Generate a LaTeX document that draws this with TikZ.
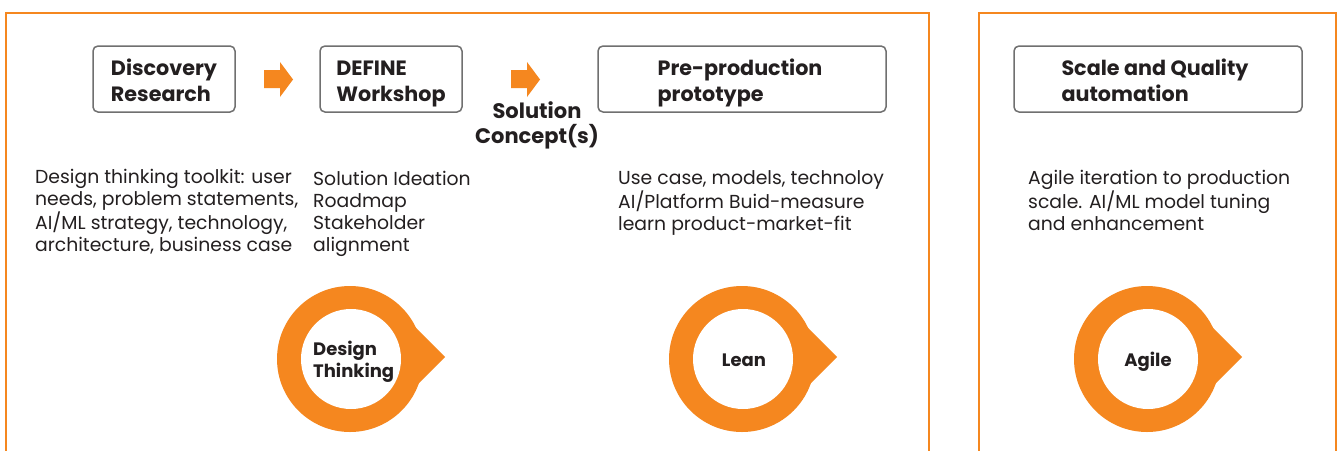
\documentclass[tikz,border=0pt]{standalone}
\usepackage{fontspec}
\setmainfont{Poppins}
\definecolor{org}{HTML}{F5871F}
\definecolor{gry}{HTML}{707070}
\definecolor{ink}{HTML}{231F20}
\begin{document}
\begin{tikzpicture}[x=1pt,y=-1pt,
 frame/.style={draw=org,line width=2pt},
 stagebox/.style={draw=gry,line width=1.5pt,rounded corners=5pt,minimum height=66pt,inner sep=0pt},
 stagetext/.style={anchor=base,inner sep=0pt,font=\bfseries\fontsize{20.7}{26}\selectfont,align=left,text=ink},
 body/.style={anchor=base west,inner sep=0pt,align=left,font=\fontsize{18.8}{22}\selectfont,text=ink},
 ringlabel/.style={inner sep=0pt,font=\bfseries\fontsize{18}{22.5}\selectfont,text=ink},
 blockarrow/.style={fill=org}
]
\clip (0,0) rectangle (1337,450);
\fill[white] (0,0) rectangle (1337,450);
% frames
\draw[frame] (6,470) -- (6,13) -- (929,13) -- (929,470);
\draw[frame] (979,470) -- (979,13) -- (1336,13) -- (1336,470);
% stage boxes
\node[stagebox,minimum width=142pt] (disc) at (164,79) {};
\node[stagebox,minimum width=142pt] (def) at (391,79) {};
\node[stagebox,minimum width=288pt] (pre) at (742,79) {};
\node[stagebox,minimum width=288pt] (scale) at (1158,79) {};
% stage texts (anchor = baseline of last line)
\node[stagetext] (disct) at (164,101) {Discovery\\Research};
\node[stagetext] (deft) at (391,101) {DEFINE\\Workshop};
\node[stagetext] (pret) at (740,101) {Pre-production\\prototype};
\node[stagetext] (scalet) at (1155,101) {Scale and Quality\\automation};
% block arrows
\foreach \ax in {264,511}{
  \fill[blockarrow] (\ax,70) -- (\ax+16,70) -- (\ax+16,62) -- (\ax+29,79.5) -- (\ax+16,97) -- (\ax+16,88) -- (\ax,88) -- cycle;
}
\node[anchor=base,inner sep=0pt,align=center,font=\bfseries\fontsize{21}{25}\selectfont,text=ink] (sol) at (537,143) {Solution\\Concept(s)};
% body texts (anchor = baseline of last line)
\node[body] (t1) at (35,251) {Design thinking toolkit: user\\needs, problem statements,\\AI/ML strategy, technology,\\architecture, business case};
\node[body] (t2) at (313,251) {Solution Ideation\\Roadmap\\Stakeholder\\alignment};
\node[body] (t3) at (618,230) {Use case, models, technoloy\\AI/Platform Buid-measure\\learn product-market-fit};
\node[body] (t4) at (1028,230) {Agile iteration to production\\scale. AI/ML model tuning\\and enhancement};
% rings
\foreach \cx in {350,742,1147}{
  \fill[org] (\cx+95,357) -- (\cx+35,297) -- (\cx+35,417) -- cycle;
  \fill[org] (\cx,359) circle[radius=73];
  \fill[white] (\cx+1,359) circle[radius=50];
}
\node[ringlabel,anchor=base west,align=left] (dt) at (313,377.5) {Design\\Thinking};
\node[ringlabel,anchor=base] (lean) at (744,366) {Lean};
\node[ringlabel,anchor=base] (agile) at (1148,366) {Agile};
\end{tikzpicture}
\end{document}
